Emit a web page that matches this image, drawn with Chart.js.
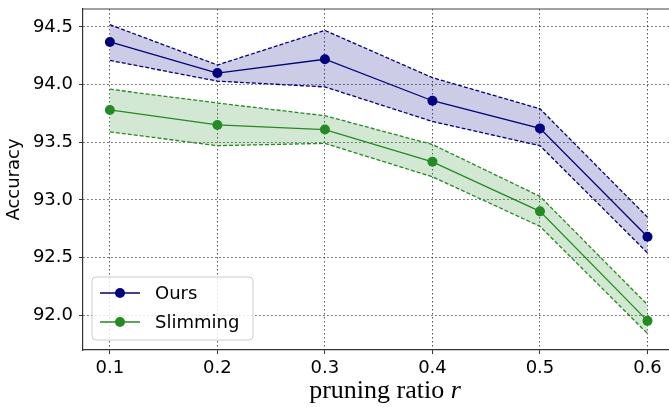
<!DOCTYPE html>
<html>
<head>
<meta charset="utf-8">
<script src="https://cdn.jsdelivr.net/npm/chart.js@4/dist/chart.umd.min.js"></script>
<style>
  html, body { margin: 0; padding: 0; background: #fff; overflow: hidden; }
</style>
</head>
<body>
<canvas id="acc_chart" width="669" height="407"></canvas>
<script>
  const RATIOS = [0.1, 0.2, 0.3, 0.4, 0.5, 0.6];

  const OURS_MEAN  = [94.37, 94.10, 94.22, 93.86, 93.62, 92.68];
  const OURS_UPPER = [94.52, 94.17, 94.47, 94.06, 93.79, 92.85];
  const OURS_LOWER = [94.21, 94.03, 93.98, 93.68, 93.47, 92.54];

  const SLIM_MEAN  = [93.78, 93.65, 93.61, 93.33, 92.90, 91.95];
  const SLIM_UPPER = [93.96, 93.84, 93.73, 93.48, 93.03, 92.09];
  const SLIM_LOWER = [93.59, 93.47, 93.49, 93.20, 92.77, 91.84];

  const SERIES_NAMES = ['Ours', 'Slimming'];
  const X_TICKS = [0.1, 0.2, 0.3, 0.4, 0.5, 0.6];
  const Y_TICKS = [92.0, 92.5, 93.0, 93.5, 94.0, 94.5];

  const NAVY = '#000080';
  const GREEN = '#228B22';
  const TICK_FONT = { family: 'DejaVu Sans', size: 18 };

  function pts(ys) {
    return RATIOS.map((x, i) => ({ x: x, y: ys[i] }));
  }

  function meanLine(label, ys, color) {
    return {
      label: label,
      data: pts(ys),
      borderColor: color,
      backgroundColor: color,
      borderWidth: 1.3,
      pointRadius: 5,
      pointHoverRadius: 5,
      pointBorderWidth: 0,
      pointBackgroundColor: color,
      fill: false,
      tension: 0
    };
  }

  function bandLine(ys, color, fillTo, fillColor) {
    return {
      label: '',
      data: pts(ys),
      borderColor: color,
      borderWidth: 1.3,
      borderDash: [4, 2],
      pointRadius: 0,
      fill: fillTo === null ? false : fillTo,
      backgroundColor: fillColor || 'transparent',
      tension: 0
    };
  }

  // legend inside the plot, axis titles and the top spine
  const extras = {
    id: 'extras',
    afterDraw(chart) {
      const ctx = chart.ctx;
      const area = chart.chartArea;
      ctx.save();

      ctx.strokeStyle = '#444';
      ctx.lineWidth = 1.2;
      ctx.beginPath();
      ctx.moveTo(area.left, area.top);
      ctx.lineTo(area.right, area.top);
      ctx.stroke();

      // legend box
      const bx = 92, by = 277, bw = 161, bh = 63, r = 4;
      ctx.beginPath();
      ctx.moveTo(bx + r, by);
      ctx.arcTo(bx + bw, by, bx + bw, by + bh, r);
      ctx.arcTo(bx + bw, by + bh, bx, by + bh, r);
      ctx.arcTo(bx, by + bh, bx, by, r);
      ctx.arcTo(bx, by, bx + bw, by, r);
      ctx.closePath();
      ctx.fillStyle = 'rgba(255,255,255,0.8)';
      ctx.fill();
      ctx.strokeStyle = '#cccccc';
      ctx.lineWidth = 1;
      ctx.stroke();

      const colors = [NAVY, GREEN];
      const rows = [293, 322];
      ctx.font = '18px "DejaVu Sans"';
      ctx.textBaseline = 'middle';
      SERIES_NAMES.forEach((name, i) => {
        const y = rows[i];
        ctx.strokeStyle = colors[i];
        ctx.lineWidth = 1.3;
        ctx.beginPath();
        ctx.moveTo(100, y);
        ctx.lineTo(140, y);
        ctx.stroke();
        ctx.fillStyle = colors[i];
        ctx.beginPath();
        ctx.arc(120, y, 5, 0, Math.PI * 2);
        ctx.fill();
        ctx.fillStyle = '#000';
        ctx.fillText(name, 155, y + 1);
      });

      // x title
      ctx.fillStyle = '#000';
      ctx.textBaseline = 'alphabetic';
      const t1 = 'pruning ratio ';
      ctx.font = 'italic 26px "Liberation Serif"';
      const w2 = ctx.measureText('r').width;
      ctx.font = '26px "Liberation Serif"';
      const w1 = ctx.measureText(t1).width;
      const x0 = 385 - (w1 + w2) / 2;
      ctx.fillText(t1, x0, 398);
      ctx.font = 'italic 26px "Liberation Serif"';
      ctx.fillText('r', x0 + w1, 398);

      // y title
      ctx.translate(14, (area.top + area.bottom) / 2);
      ctx.rotate(-Math.PI / 2);
      ctx.font = '18px "DejaVu Sans"';
      ctx.textAlign = 'center';
      ctx.textBaseline = 'middle';
      ctx.fillText('Accuracy', 0, 0);
      ctx.restore();
    }
  };

  const gridStyle = {
    color: 'rgba(0,0,0,0.65)',
    lineWidth: 1,
    drawTicks: true,
    tickLength: 4,
    tickColor: '#333',
    tickWidth: 1
  };

  new Chart(document.getElementById('acc_chart').getContext('2d'), {
    type: 'line',
    data: {
      datasets: [
        bandLine(OURS_UPPER, NAVY, '+1', 'rgba(0,0,128,0.2)'),
        bandLine(OURS_LOWER, NAVY, null),
        meanLine(SERIES_NAMES[0], OURS_MEAN, NAVY),
        bandLine(SLIM_UPPER, GREEN, '+1', 'rgba(34,139,34,0.2)'),
        bandLine(SLIM_LOWER, GREEN, null),
        meanLine(SERIES_NAMES[1], SLIM_MEAN, GREEN)
      ]
    },
    options: {
      responsive: false,
      animation: false,
      layout: { autoPadding: false, padding: { top: 9, left: 0, right: 0, bottom: 0 } },
      plugins: {
        legend: { display: false },
        tooltip: { enabled: false }
      },
      scales: {
        x: {
          type: 'linear',
          min: 0.075,
          max: 0.62,
          afterBuildTicks: (s) => { s.ticks = X_TICKS.map(v => ({ value: v })); },
          afterFit: (s) => { s.height = 57; s.paddingLeft = 0; s.paddingRight = 0; },
          ticks: {
            font: TICK_FONT,
            color: '#000',
            padding: 4,
            maxRotation: 0,
            callback: (v) => v.toFixed(1)
          },
          grid: gridStyle,
          border: { display: true, color: '#333', width: 1.2, dash: [1.5, 2.5] }
        },
        y: {
          type: 'linear',
          min: 91.697,
          max: 94.656,
          afterBuildTicks: (s) => { s.ticks = Y_TICKS.map(v => ({ value: v })); },
          afterFit: (s) => { s.width = 83; s.paddingTop = 0; s.paddingBottom = 0; },
          ticks: {
            font: TICK_FONT,
            color: '#000',
            padding: 6,
            callback: (v) => v.toFixed(1)
          },
          grid: gridStyle,
          border: { display: true, color: '#333', width: 1.2, dash: [1.5, 2.5] }
        }
      }
    },
    plugins: [extras]
  });
</script>
</body>
</html>
